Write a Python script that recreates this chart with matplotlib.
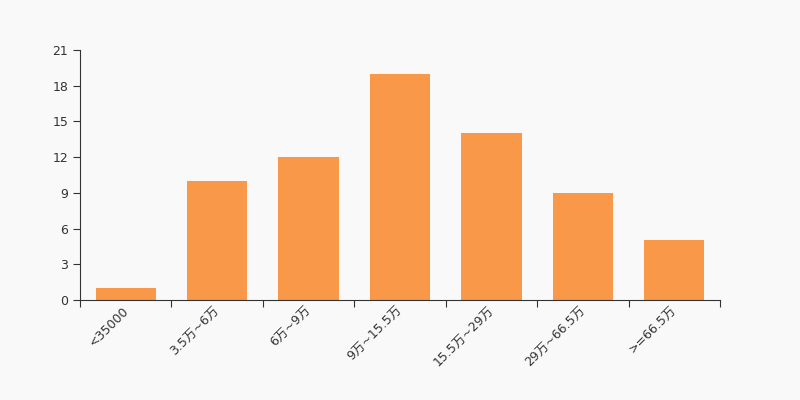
import matplotlib
matplotlib.use("Agg")
import matplotlib.pyplot as plt
import matplotlib.transforms as mtransforms
import numpy as np

plt.rcParams['font.family'] = ['DejaVu Sans', 'Noto Sans CJK SC']

categories = ['<35000', '3.5万~6万', '6万~9万', '9万~15.5万', '15.5万~29万', '29万~66.5万', '>=66.5万']
values = [1, 10, 12, 19, 14, 9, 5]
yticks = [0, 3, 6, 9, 12, 15, 18, 21]

bg = '#f9f9f9'
fig = plt.figure(figsize=(8, 4), dpi=100, facecolor=bg)
ax = fig.add_axes([0.1, 0.25, 0.8, 0.625], facecolor=bg)

x = np.arange(len(categories))
ax.bar(x, values, width=0.66, color='#f99848', zorder=2)

ax.set_xlim(-0.5, len(categories) - 0.5)
ax.set_ylim(0, 21)
ax.set_yticks(yticks)
ax.set_xticks(np.arange(len(categories) + 1) - 0.5)
ax.set_xticklabels([])
ax.set_xticks(x, minor=True)
ax.set_xticklabels(categories, minor=True, rotation=45, ha='right',
                   rotation_mode='anchor')
ax.tick_params(axis='x', which='minor', length=0, pad=3)
ax.tick_params(axis='both', which='major', length=5, color='#333333',
               labelsize=9, labelcolor='#333333')
ax.tick_params(axis='x', which='minor', labelsize=9, labelcolor='#333333')

# nudge the rotated labels a little to the left
shift = mtransforms.ScaledTranslation(-4 / 100, 0, fig.dpi_scale_trans)
for lbl in ax.get_xticklabels(minor=True):
    lbl.set_transform(lbl.get_transform() + shift)

for s in ['top', 'right']:
    ax.spines[s].set_visible(False)
for s in ['left', 'bottom']:
    ax.spines[s].set_color('#333333')

fig.savefig('out.png', facecolor=bg)
